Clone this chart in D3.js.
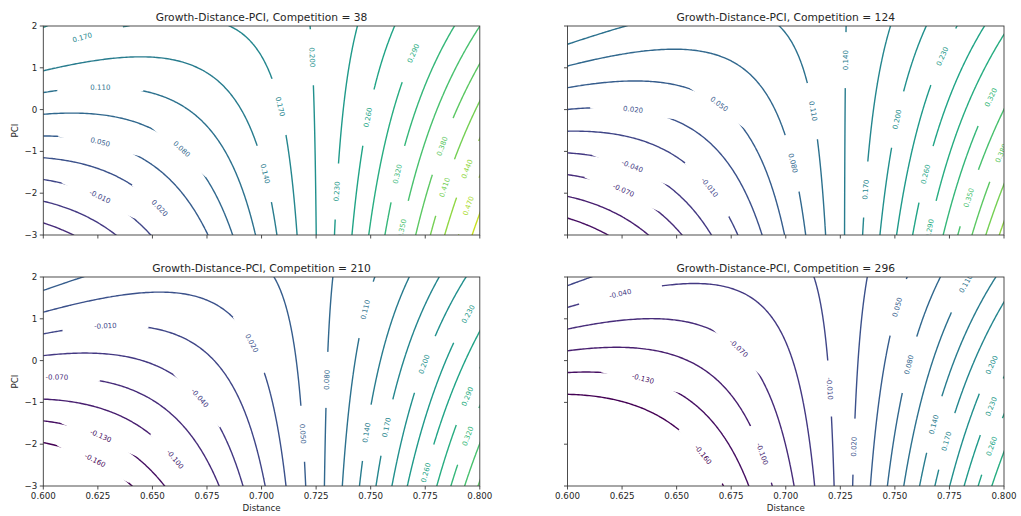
<!DOCTYPE html>
<html>
<head>
<meta charset="utf-8">
<script src="https://cdn.jsdelivr.net/npm/d3@7"></script>
<style>
  body { margin: 0; background: #fff; }
  text { font-family: "DejaVu Sans", sans-serif; }
</style>
</head>
<body>
<svg id="chart" width="1021" height="516"></svg>
<script>
// competition value of each panel
const competition = [38, 124, 210, 296];

// fitted growth surface: terms and coefficients
const termNames = ['const', 'Distance', 'Distance^2', 'PCI', 'Distance:PCI', 'Competition'];
const coefs = [3.7855, -11.942, 9.71, 0.3313, -0.4560, -0.000775];

// contour levels
const levels = [-0.16, -0.13, -0.10, -0.07, -0.04, -0.01, 0.02, 0.05, 0.08, 0.11, 0.14, 0.17,
                0.20, 0.23, 0.26, 0.29, 0.32, 0.35, 0.38, 0.41, 0.44, 0.47, 0.50];

// tick values
const distanceTicks = [0.6, 0.625, 0.65, 0.675, 0.7, 0.725, 0.75, 0.775, 0.8];
const pciTicks = [-3, -2, -1, 0, 1, 2];

// where the inline contour labels sit: [level, distance, pci]
const labelSpots = [
  [[0.17, 0.6178, 1.730], [0.11, 0.6261, 0.585], [0.05, 0.6265, -0.680], [-0.01, 0.6270, -1.969],
   [0.08, 0.6660, -0.800], [0.02, 0.6559, -2.232], [0.14, 0.7056, -1.492], [0.17, 0.7120, 0.107],
   [0.20, 0.7258, 1.253], [0.23, 0.7372, -1.969], [0.26, 0.7501, -0.203], [0.29, 0.7694, 1.348],
   [0.32, 0.7639, -1.563], [0.35, 0.7662, -2.876], [0.38, 0.7837, -0.895], [0.41, 0.7846, -1.874],
   [0.44, 0.7952, -1.444], [0.47, 0.7961, -2.327]],
  [[0.02, 0.6302, 0.067], [0.05, 0.6714, 0.267], [-0.04, 0.6302, -1.284], [-0.07, 0.6264, -1.842],
   [-0.01, 0.6676, -1.761], [0.14, 0.7287, 1.181], [0.11, 0.7157, -0.012], [0.08, 0.7066, -1.246],
   [0.20, 0.7523, -0.251], [0.17, 0.7386, -1.921], [0.23, 0.7706, 1.301], [0.26, 0.7653, -1.563],
   [0.32, 0.7935, 0.306], [0.35, 0.7844, -2.119], [0.38, 0.7989, -1.045], [0.29, 0.7676, -2.876]],
  [[-0.01, 0.6284, 0.856], [-0.07, 0.6062, -0.385], [-0.04, 0.6743, -0.783], [-0.13, 0.6268, -1.743],
   [-0.16, 0.6245, -2.304], [-0.10, 0.6628, -2.264], [0.02, 0.6973, 0.465], [0.08, 0.7318, -0.464],
   [0.05, 0.7226, -1.743], [0.11, 0.7478, 1.215], [0.14, 0.7501, -1.743], [0.17, 0.7593, -1.623],
   [0.20, 0.7754, -0.104], [0.23, 0.7938, 1.136], [0.29, 0.7946, -0.865], [0.32, 0.7953, -1.824],
   [0.26, 0.7769, -2.703]],
  [[-0.04, 0.6241, 1.616], [-0.07, 0.6799, 0.376], [-0.13, 0.6348, -0.385], [-0.16, 0.6638, -2.184],
   [-0.10, 0.6920, -2.184], [-0.01, 0.7233, -0.663], [0.02, 0.7332, -2.064], [0.05, 0.7500, 1.295],
   [0.08, 0.7569, -0.104], [0.14, 0.7691, -1.544], [0.17, 0.7745, -1.944], [0.20, 0.7943, -0.104],
   [0.23, 0.7943, -1.104], [0.26, 0.7951, -2.064], [0.11, 0.7806, 1.895]]
];

function growth(d, p, c) {
  return coefs[0] + coefs[1] * d + coefs[2] * d * d + coefs[3] * p + coefs[4] * d * p + coefs[5] * c;
}
function gradD(d, p) { return coefs[1] + 2 * coefs[2] * d + coefs[4] * p; }
function gradP(d, p) { return coefs[3] + coefs[4] * d; }

const svg = d3.select('#chart');
const defs = svg.append('defs');
const color = d3.scaleSequential(d3.interpolateViridis).domain([-0.16, 0.56]);
// clabel style: plain hyphen, three decimals
const fmt = v => (v < 0 ? '-' : '') + Math.abs(v).toFixed(3);
const axisColor = '#3a3a3a';
const textColor = '#262626';

// 2x2 grid of axes
const W = 436.5, H = 209;
const panels = [
  {left: 43.3, top: 26},
  {left: 567.5, top: 26},
  {left: 43.3, top: 277},
  {left: 567.5, top: 277}
];

// sampling grid a bit wider than the axes so the outer rings fall outside the clip
const d0 = 0.585, dStep = 0.001, nx = 231;
const p0 = -3.25, pStep = 0.025, ny = 221;

panels.forEach((pn, k) => {
  const c = competition[k];
  const x = d3.scaleLinear().domain([0.6, 0.8]).range([pn.left, pn.left + W]);
  const y = d3.scaleLinear().domain([-3, 2]).range([pn.top + H, pn.top]);

  const values = new Float64Array(nx * ny);
  for (let j = 0; j < ny; j++) {
    for (let i = 0; i < nx; i++) {
      values[j * nx + i] = growth(d0 + i * dStep, p0 + j * pStep, c);
    }
  }
  const contours = d3.contours().size([nx, ny]).thresholds(levels)(values);

  // clip to the axes box
  defs.append('clipPath').attr('id', 'clip' + k)
    .append('rect').attr('x', pn.left).attr('y', pn.top).attr('width', W).attr('height', H);

  // mask that opens the gaps under the inline labels
  const mask = defs.append('mask').attr('id', 'gap' + k)
    .attr('maskUnits', 'userSpaceOnUse')
    .attr('x', 0).attr('y', 0).attr('width', 1021).attr('height', 516);
  mask.append('rect').attr('x', pn.left - 5).attr('y', pn.top - 5)
    .attr('width', W + 10).attr('height', H + 10).attr('fill', 'white');

  const toPath = ring => 'M' + ring.map(pt => {
    const d = d0 + (pt[0] - 0.5) * dStep;
    const p = p0 + (pt[1] - 0.5) * pStep;
    return x(d).toFixed(2) + ',' + y(p).toFixed(2);
  }).join('L') + 'Z';

  const g = svg.append('g').attr('clip-path', `url(#clip${k})`);
  const lines = g.append('g').attr('mask', `url(#gap${k})`);
  lines.selectAll('path')
    .data(contours.filter(ct => ct.coordinates.length))
    .enter().append('path')
    .attr('d', ct => ct.coordinates.map(poly => poly.map(toPath).join('')).join(''))
    .attr('fill', 'none')
    .attr('stroke', ct => color(ct.value))
    .attr('stroke-width', 1.4);

  // labels, snapped onto their contour and turned along it
  const pxD = 0.2 / W, pxP = 5 / H;
  labelSpots[k].forEach(([lev, dl, pl]) => {
    let sx = x(dl), sy = y(pl);
    for (let it = 0; it < 4; it++) {
      const d = x.invert(sx), p = y.invert(sy);
      const gx = gradD(d, p) * pxD, gy = -gradP(d, p) * pxP; // screen gradient, y down
      const s = (growth(d, p, c) - lev) / (gx * gx + gy * gy);
      sx -= s * gx; sy -= s * gy;
    }
    const d = x.invert(sx), p = y.invert(sy);
    const gx = gradD(d, p) * pxD, gy = -gradP(d, p) * pxP;
    // tangent in y-up space is (gy, gx); keep text right side up like clabel
    let ang = Math.atan2(gx, gy) * 180 / Math.PI;
    ang = ((ang + 90) % 180 + 180) % 180 - 90;
    const rad = ang * Math.PI / 180;
    const half = Math.sqrt(Math.pow(43 * Math.cos(rad), 2) + Math.pow(28 * Math.sin(rad), 2));

    mask.append('rect')
      .attr('x', -half).attr('y', -4.5).attr('width', 2 * half).attr('height', 9)
      .attr('fill', 'black')
      .attr('transform', `translate(${sx},${sy}) rotate(${-ang})`);

    g.append('text')
      .attr('transform', `translate(${sx},${sy}) rotate(${-ang})`)
      .attr('text-anchor', 'middle')
      .attr('dy', '0.35em')
      .attr('font-size', 7)
      .attr('fill', color(lev))
      .text(fmt(lev));
  });

  // axes frame
  svg.append('rect')
    .attr('x', pn.left).attr('y', pn.top).attr('width', W).attr('height', H)
    .attr('fill', 'none').attr('stroke', axisColor).attr('stroke-width', 0.9);

  // ticks
  const bottomRow = k >= 2, leftCol = k % 2 === 0;
  svg.append('g').selectAll('line').data(distanceTicks).enter().append('line')
    .attr('x1', d => x(d)).attr('x2', d => x(d))
    .attr('y1', pn.top + H).attr('y2', pn.top + H + 3.5)
    .attr('stroke', axisColor).attr('stroke-width', 0.9);
  svg.append('g').selectAll('line').data(pciTicks).enter().append('line')
    .attr('x1', pn.left - 3.5).attr('x2', pn.left)
    .attr('y1', d => y(d)).attr('y2', d => y(d))
    .attr('stroke', axisColor).attr('stroke-width', 0.9);

  if (bottomRow) {
    svg.append('g').selectAll('text').data(distanceTicks).enter().append('text')
      .attr('x', d => x(d)).attr('y', pn.top + H + 12.8)
      .attr('text-anchor', 'middle').attr('font-size', 8.7).attr('fill', textColor)
      .text(d => d3.format('.3f')(d));
    svg.append('text')
      .attr('x', pn.left + W / 2).attr('y', 511)
      .attr('text-anchor', 'middle').attr('font-size', 8.7).attr('fill', textColor)
      .text('Distance');
  }
  if (leftCol) {
    svg.append('g').selectAll('text').data(pciTicks).enter().append('text')
      .attr('x', pn.left - 6).attr('y', d => y(d)).attr('dy', '0.35em')
      .attr('text-anchor', 'end').attr('font-size', 8.7).attr('fill', textColor)
      .text(d => d < 0 ? '\u2212' + Math.abs(d) : d);
    svg.append('text')
      .attr('transform', `translate(17.5,${pn.top + H / 2}) rotate(-90)`)
      .attr('text-anchor', 'middle').attr('font-size', 8.7).attr('fill', textColor)
      .text('PCI');
  }

  // title
  svg.append('text')
    .attr('x', pn.left + W / 2).attr('y', pn.top - 5.5)
    .attr('text-anchor', 'middle').attr('font-size', 10.7).attr('fill', textColor)
    .text(`Growth-Distance-PCI, Competition = ${c}`);
});
</script>
</body>
</html>
